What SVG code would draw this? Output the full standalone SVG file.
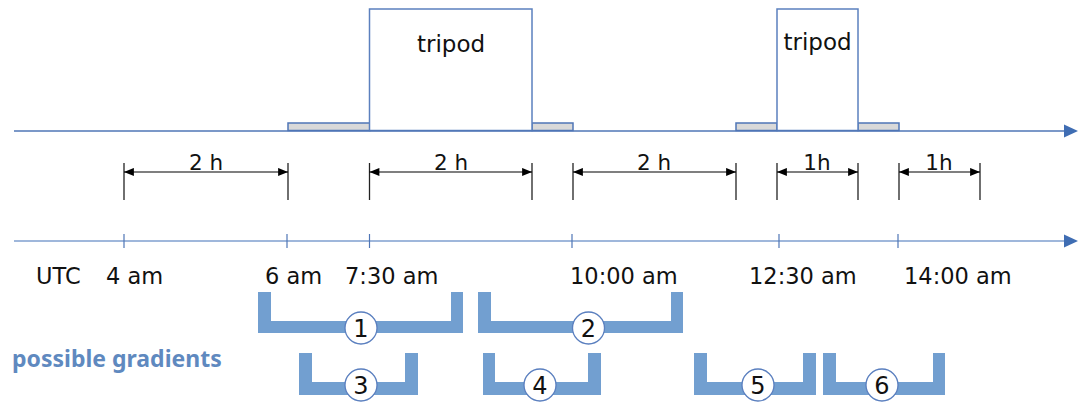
<svg xmlns="http://www.w3.org/2000/svg" width="1078" height="406" viewBox="0 0 1078 406">
<style>
.axis1{stroke:#4f76b6;stroke-width:1.5;fill:none}
.axis2{stroke:#7f9fcf;stroke-width:1.5;fill:none}
.tick{stroke:#4f76b6;stroke-width:1.2}
.box{fill:#fff;stroke:#5b80be;stroke-width:1.5}
.gray{fill:#d9d9d9;stroke:#4f76b6;stroke-width:1.5}
.dim{stroke:#000;stroke-width:1.2;fill:none}
.dtick{stroke:#222;stroke-width:1.3}
.lbl{font-family:"DejaVu Sans",sans-serif;font-size:22.5px;fill:#111}
.dl{font-family:"DejaVu Sans",sans-serif;font-size:21.5px;fill:#111;text-anchor:middle}
.tri{font-family:"DejaVu Sans",sans-serif;font-size:23px;fill:#111;text-anchor:middle}
.br{fill:#729fd0}
.circ{fill:#fff;stroke:#5a7fbf;stroke-width:1.3}
.num{font-family:"DejaVu Sans",sans-serif;font-size:24px;fill:#111;text-anchor:middle}
.pg{font-family:"Noto Sans","DejaVu Sans",sans-serif;font-size:23px;font-weight:bold;fill:#5f89bf}
</style>
<defs>
<marker id="ah" viewBox="0 0 11 10" refX="11" refY="5" markerWidth="11" markerHeight="9" markerUnits="userSpaceOnUse" orient="auto-start-reverse">
<path d="M0,0.5 L11,5 L0,9.5 z" fill="#000"/>
</marker>
</defs>
<g id="nodes">
<g id="tripod1">
<rect class="gray" x="288" y="123" width="82" height="7.5"/>
<rect class="gray" x="532" y="123" width="41" height="7.5"/>
<rect class="box" x="369.5" y="9" width="162.5" height="121.5"/>
<text class="tri" x="451" y="52">tripod</text>
</g>
<g id="tripod2">
<rect class="gray" x="736" y="123" width="41" height="7.5"/>
<rect class="gray" x="858" y="123" width="41" height="7.5"/>
<rect class="box" x="777" y="9" width="81" height="121.5"/>
<text class="tri" x="817.5" y="50">tripod</text>
</g>
<g id="timeline-labels">
<text class="lbl" x="36" y="284">UTC</text>
<text class="lbl" x="106" y="284">4 am</text>
<text class="lbl" x="265" y="284">6 am</text>
<text class="lbl" x="345" y="284">7:30 am</text>
<text class="lbl" x="570" y="284">10:00 am</text>
<text class="lbl" x="749" y="284">12:30 am</text>
<text class="lbl" x="904" y="284">14:00 am</text>
</g>
<g id="legend">
<text class="pg" x="12" y="367">possible gradients</text>
</g>
<g id="gradient1">
<path class="br" d="M258,292 H271 V321 H451 V292 H463 V333 H258 Z"/>
<circle class="circ" cx="361" cy="328" r="16"/>
<text class="num" x="361" y="337">1</text>
</g>
<g id="gradient2">
<path class="br" d="M478,292 H491 V321 H671 V292 H683 V333 H478 Z"/>
<circle class="circ" cx="588.5" cy="328" r="16"/>
<text class="num" x="588.5" y="337">2</text>
</g>
<g id="gradient3">
<path class="br" d="M299,353 H312 V382 H405 V353 H418 V395 H299 Z"/>
<circle class="circ" cx="361" cy="385" r="16"/>
<text class="num" x="361" y="394">3</text>
</g>
<g id="gradient4">
<path class="br" d="M483,353 H495 V382 H588 V353 H601 V395 H483 Z"/>
<circle class="circ" cx="540" cy="385" r="16"/>
<text class="num" x="540" y="394">4</text>
</g>
<g id="gradient5">
<path class="br" d="M694,353 H707 V382 H803 V353 H816 V395 H694 Z"/>
<circle class="circ" cx="758" cy="385" r="16"/>
<text class="num" x="758" y="394">5</text>
</g>
<g id="gradient6">
<path class="br" d="M823,353 H836 V382 H933 V353 H945 V395 H823 Z"/>
<circle class="circ" cx="882" cy="385" r="16"/>
<text class="num" x="882" y="394">6</text>
</g>
</g>
<g id="connectors">
<line class="axis1" x1="14" y1="131" x2="1066" y2="131"/>
<path d="M1064,124.5 L1078,131 L1064,137.5 z" fill="#3f6db3"/>
<line class="axis2" x1="14" y1="241" x2="1066" y2="241"/>
<path d="M1064,234.5 L1078,241 L1064,247.5 z" fill="#3f6db3"/>
<g>
<line class="tick" x1="124" y1="234" x2="124" y2="248"/>
<line class="tick" x1="287" y1="234" x2="287" y2="248"/>
<line class="tick" x1="369.5" y1="234" x2="369.5" y2="248"/>
<line class="tick" x1="572" y1="234" x2="572" y2="248"/>
<line class="tick" x1="779" y1="234" x2="779" y2="248"/>
<line class="tick" x1="898" y1="234" x2="898" y2="248"/>
</g>
<g>
<line class="dtick" x1="124" y1="163" x2="124" y2="200"/>
<line class="dtick" x1="288" y1="163" x2="288" y2="200"/>
<line class="dtick" x1="369.5" y1="163" x2="369.5" y2="200"/>
<line class="dtick" x1="532" y1="163" x2="532" y2="200"/>
<line class="dtick" x1="573" y1="163" x2="573" y2="200"/>
<line class="dtick" x1="736" y1="163" x2="736" y2="200"/>
<line class="dtick" x1="777" y1="163" x2="777" y2="200"/>
<line class="dtick" x1="858" y1="163" x2="858" y2="200"/>
<line class="dtick" x1="899" y1="163" x2="899" y2="200"/>
<line class="dtick" x1="980" y1="163" x2="980" y2="200"/>
</g>
<line class="dim" x1="124" y1="172" x2="288" y2="172" marker-start="url(#ah)" marker-end="url(#ah)"/>
<line class="dim" x1="369.5" y1="172" x2="532" y2="172" marker-start="url(#ah)" marker-end="url(#ah)"/>
<line class="dim" x1="573" y1="172" x2="736" y2="172" marker-start="url(#ah)" marker-end="url(#ah)"/>
<line class="dim" x1="777" y1="172" x2="858" y2="172" marker-start="url(#ah)" marker-end="url(#ah)"/>
<line class="dim" x1="899" y1="172" x2="980" y2="172" marker-start="url(#ah)" marker-end="url(#ah)"/>
<text class="dl" x="206" y="169.5">2 h</text>
<text class="dl" x="451" y="169.5">2 h</text>
<text class="dl" x="654" y="169.5">2 h</text>
<text class="dl" x="817" y="169.5">1h</text>
<text class="dl" x="939" y="169.5">1h</text>
</g>
</svg>
